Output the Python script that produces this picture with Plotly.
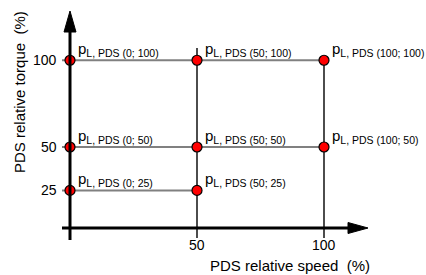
import plotly.graph_objects as go

# Data
speed_levels = [0, 50, 100]          # PDS relative speed (%)
torque_levels = [100, 50, 25]        # PDS relative torque (%)
# points (speed, torque)
pt_speed = [0, 50, 100, 0, 50, 100, 0, 50]
pt_torque = [100, 100, 100, 50, 50, 50, 25, 25]
row_max_speed = {100: 100, 50: 100, 25: 50}
x_ticks = [50, 100]
y_ticks = [100, 50, 25]

W, H = 426, 275
# pixel <-> data mapping
X0PX, XS = 70.0, 2.54
Y0PX, YS = 233.75, 1.735
def X(px): return (px - X0PX) / XS
def Y(py): return (Y0PX - py) / YS

FONT = "Liberation Sans, Arial, sans-serif"
fig = go.Figure()

# horizontal grid lines (gray)
for t in torque_levels:
    fig.add_trace(go.Scatter(x=[X(62), row_max_speed[t]], y=[t, t], mode="lines",
                             line=dict(color="#808080", width=2), hoverinfo="skip"))
# vertical lines (black)
for s, top in [(50, Y(48)), (100, 100)]:
    fig.add_trace(go.Scatter(x=[s, s], y=[Y(238), top], mode="lines",
                             line=dict(color="black", width=1.4), hoverinfo="skip"))

shapes = []
# y-axis
shapes.append(dict(type="line", x0=0, x1=0, y0=Y(240), y1=Y(28), line=dict(color="black", width=3)))
shapes.append(dict(type="path", path=f"M {X(64)} {Y(32)} L {X(76)} {Y(32)} L {X(70)} {Y(11)} Z",
                   fillcolor="black", line=dict(color="black", width=1)))
# x-axis
shapes.append(dict(type="line", x0=X(62), x1=X(352), y0=Y(228), y1=Y(228), line=dict(color="black", width=3)))
shapes.append(dict(type="path", path=f"M {X(348)} {Y(222.5)} L {X(348)} {Y(233.5)} L {X(368)} {Y(228)} Z",
                   fillcolor="black", line=dict(color="black", width=1)))

# markers
fig.add_trace(go.Scatter(x=pt_speed, y=pt_torque, mode="markers",
                         marker=dict(color="#ff0000", size=10, line=dict(color="black", width=1.2)),
                         hoverinfo="skip"))

annotations = []
for s, t in zip(pt_speed, pt_torque):
    annotations.append(dict(x=s, y=t, xref="x", yref="y", showarrow=False,
                            text=f"p<sub>L, PDS ({s}; {t})</sub>",
                            xanchor="left", yanchor="middle", xshift=6, yshift=11,
                            font=dict(family=FONT, size=15, color="black")))
for t in y_ticks:
    annotations.append(dict(x=X(59), y=t, xref="x", yref="y", showarrow=False, text=str(t),
                            xanchor="right", yanchor="middle",
                            font=dict(family=FONT, size=14, color="black")))
for s in x_ticks:
    annotations.append(dict(x=s, y=Y(245), xref="x", yref="y", showarrow=False, text=str(s),
                            xanchor="center", yanchor="middle",
                            font=dict(family=FONT, size=14, color="black")))
annotations.append(dict(x=X(290), y=Y(265), xref="x", yref="y", showarrow=False,
                        text="PDS relative speed  (%)", xanchor="center", yanchor="middle",
                        font=dict(family=FONT, size=15, color="black")))
annotations.append(dict(x=X(19), y=Y(92), xref="x", yref="y", showarrow=False, textangle=-90,
                        text="PDS relative torque  (%)", xanchor="center", yanchor="middle",
                        font=dict(family=FONT, size=15, color="black")))

fig.update_layout(
    width=W, height=H, margin=dict(l=0, r=0, t=0, b=0),
    paper_bgcolor="white", plot_bgcolor="white", showlegend=False,
    xaxis=dict(range=[X(0), X(W)], visible=False, fixedrange=True),
    yaxis=dict(range=[Y(H), Y(0)], visible=False, fixedrange=True),
    shapes=shapes, annotations=annotations,
)
fig.write_html("out.html")
